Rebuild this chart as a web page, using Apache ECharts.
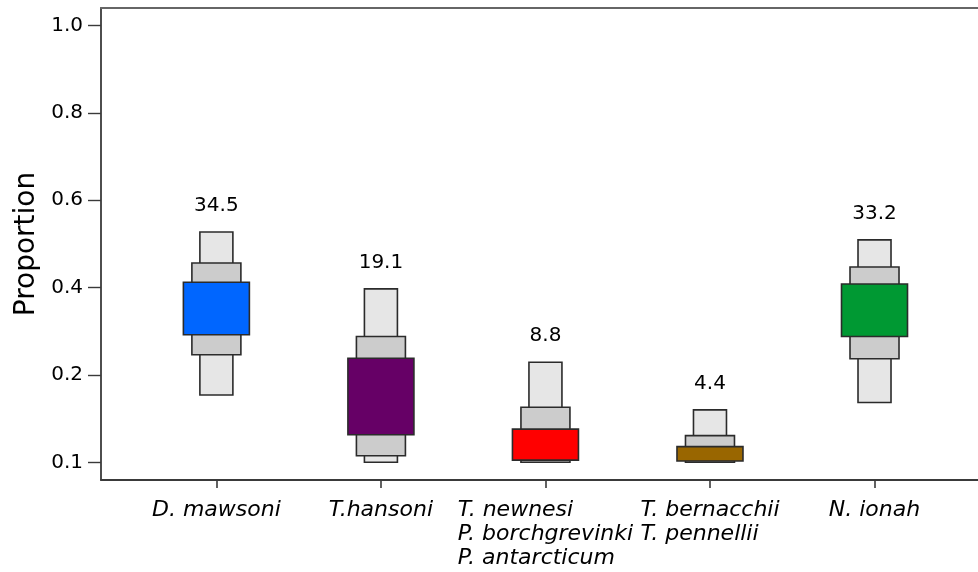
<!DOCTYPE html>
<html>
<head>
<meta charset="utf-8">
<script src="https://cdn.jsdelivr.net/npm/echarts@6/dist/echarts.min.js"></script>
<style>
  html, body { margin: 0; padding: 0; background: #ffffff; }
  #chart { width: 978px; height: 572px; }
</style>
</head>
<body>
<div id="chart"></div>
<script>
// ---- data ----
const categories = [
  ['D. mawsoni'],
  ['T.hansoni'],
  ['T. newnesi', 'P. borchgrevinki', 'P. antarcticum'],
  ['T. bernacchii', 'T. pennellii'],
  ['N. ionah']
];
const lo95 = [0.154, 0.000, 0.000, 0.000, 0.137];
const hi95 = [0.527, 0.397, 0.229, 0.120, 0.509];
const lo75 = [0.246, 0.015, 0.000, 0.000, 0.237];
const hi75 = [0.456, 0.288, 0.126, 0.061, 0.447];
const lo50 = [0.292, 0.063, 0.005, 0.003, 0.288];
const hi50 = [0.412, 0.238, 0.076, 0.036, 0.408];
const valueLabels = ['34.5', '19.1', '8.8', '4.4', '33.2'];
const boxColors = ['#0066FF', '#660066', '#FF0000', '#996600', '#009933'];
const yTickValues = [0, 0.2, 0.4, 0.6, 0.8, 1.0];
const yTickLabels = ['0.1', '0.2', '0.4', '0.6', '0.8', '1.0'];
const xTickValues = [1, 2, 3, 4, 5];

const FONT = '"DejaVu Sans", "Liberation Sans", Arial, sans-serif';
const seriesData = categories.map((c, i) => [i + 1, lo95[i], hi95[i], lo75[i], hi75[i], lo50[i], hi50[i]]);

function renderItem(params, api) {
  const idx = params.dataIndex;
  const x = api.value(0);
  const cx = api.coord([x, 0])[0];
  const mk = (lo, hi, w, fill) => {
    const yTop = api.coord([x, hi])[1];
    const yBot = api.coord([x, lo])[1];
    return {
      type: 'rect',
      shape: { x: cx - w / 2, y: yTop, width: w, height: Math.max(yBot - yTop, 0.5) },
      style: { fill: fill, stroke: '#2b2b2b', lineWidth: 1.6 }
    };
  };
  const top95 = api.coord([x, api.value(2)])[1];
  return {
    type: 'group',
    children: [
      mk(api.value(1), api.value(2), 33, '#E6E6E6'),
      mk(api.value(3), api.value(4), 49, '#CCCCCC'),
      mk(api.value(5), api.value(6), 66, boxColors[idx]),
      {
        type: 'text',
        style: {
          text: valueLabels[idx],
          x: cx, y: top95 - 26,
          align: 'center', verticalAlign: 'middle',
          fontSize: 20, fontFamily: FONT, fill: '#000'
        }
      }
    ]
  };
}

const chart = echarts.init(document.getElementById('chart'), null, { renderer: 'canvas' });
chart.setOption({
  animation: false,
  backgroundColor: '#ffffff',
  grid: { left: 101, right: 0, top: 8, bottom: 92, containLabel: false },
  xAxis: [
    {
      type: 'value', min: 0.2987, max: 5.629, position: 'bottom',
      splitLine: { show: false },
      axisLine: { show: true, onZero: false, lineStyle: { color: '#3a3a3a', width: 1.8 } },
      axisTick: { show: true, customValues: xTickValues, length: 8, lineStyle: { color: '#3a3a3a', width: 1.6 } },
      axisLabel: {
        show: true, customValues: xTickValues, margin: 18,
        formatter: (v) => {
          const lines = categories[Math.round(v) - 1] || [];
          return lines.map(l => '{a|' + l + '}').join('\n');
        },
        rich: {
          a: { align: 'left', fontSize: 22, fontStyle: 'italic', fontFamily: FONT, color: '#000', lineHeight: 24 }
        }
      }
    },
    {
      type: 'value', min: 0.2987, max: 5.629, position: 'top',
      splitLine: { show: false },
      axisLine: { show: true, onZero: false, lineStyle: { color: '#666', width: 2 } },
      axisTick: { show: false },
      axisLabel: { show: false }
    }
  ],
  yAxis: {
    type: 'value', min: -0.0405, max: 1.0398,
    name: 'Proportion', nameLocation: 'middle', nameGap: 60,
    nameTextStyle: { fontSize: 28, fontFamily: FONT, color: '#000' },
    splitLine: { show: false },
    axisLine: { show: true, onZero: false, lineStyle: { color: '#3a3a3a', width: 1.8 } },
    axisTick: { show: true, customValues: yTickValues, length: 13, lineStyle: { color: '#3a3a3a', width: 1.4 } },
    axisLabel: {
      show: true, customValues: yTickValues, margin: 18,
      fontSize: 20, fontFamily: FONT, color: '#000',
      formatter: (v) => {
        const k = yTickValues.findIndex(t => Math.abs(t - v) < 1e-6);
        return k >= 0 ? yTickLabels[k] : '';
      }
    }
  },
  series: [{
    type: 'custom',
    xAxisIndex: 0,
    renderItem: renderItem,
    encode: { x: 0, y: [1, 2, 3, 4, 5, 6] },
    data: seriesData,
    clip: false
  }]
});
</script>
</body>
</html>
